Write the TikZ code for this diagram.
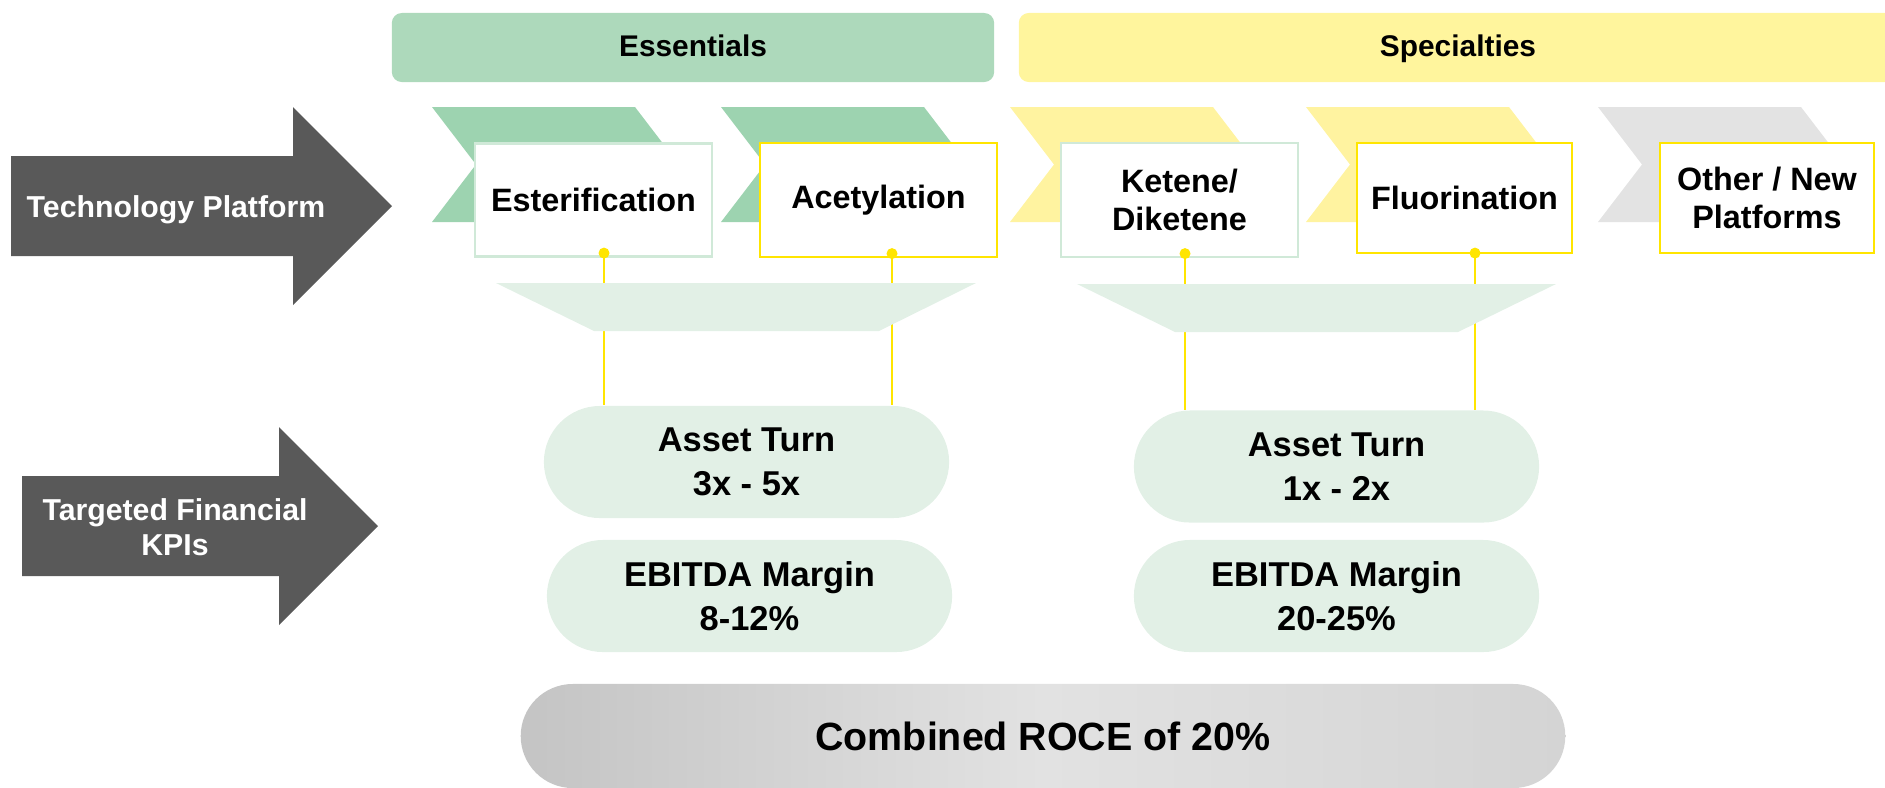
\documentclass[tikz,border=0pt]{standalone}
\usepackage{fontspec}
\setmainfont{Liberation Sans}
\usetikzlibrary{positioning}

\definecolor{essgreen}{HTML}{ADD9BB}
\definecolor{chevgreen}{HTML}{9DD3B0}
\definecolor{specyellow}{HTML}{FFF59D}
\definecolor{chevyellow}{HTML}{FFF3A0}
\definecolor{chevgray}{HTML}{E3E3E3}
\definecolor{arrowgray}{HTML}{595959}
\definecolor{linkyellow}{HTML}{FFE500}
\definecolor{boxgreen}{HTML}{D0E9D8}
\definecolor{kpigreen}{HTML}{E2F0E6}
\definecolor{roceleft}{HTML}{C4C4C4}
\definecolor{rocemid}{HTML}{E2E2E2}
\definecolor{roceright}{HTML}{D4D4D4}

\begin{document}
\begin{tikzpicture}[
    x=0.01cm, y=-0.01cm,
    header/.style={fill=#1, rounded corners=0.1cm, minimum height=0.69cm, inner sep=0pt, text height=0.72em, text depth=0.2em, font=\fontsize{8.5}{10}\selectfont\bfseries},
    platform/.style={draw=#1, line width=0.6pt, fill=white, align=center, inner sep=0pt, font=\fontsize{9.2}{10.6}\selectfont\bfseries},
    kpi/.style={fill=kpigreen, rounded corners=0.56cm, minimum width=4.05cm, minimum height=1.12cm, align=center, inner sep=0pt, font=\fontsize{9.8}{12.4}\selectfont\bfseries},
    arrowtext/.style={text=white, align=center, font=\fontsize{8.6}{10}\selectfont\bfseries},
    link/.style={draw=linkyellow, line width=0.6pt},
    dot/.style={fill=linkyellow}
  ]
  \useasboundingbox (0,0) rectangle (1885,787);

  \node[header=essgreen, minimum width=6.02cm] (essentials) at (693,47.5) {Essentials};
  \node[header=specyellow, minimum width=8.78cm] (specialties) at (1458,47.5) {Specialties};

  \fill[arrowgray] (11,156) -- (293,156) -- (293,107) -- (392,206) -- (293,305) -- (293,256) -- (11,256) -- cycle;
  \fill[arrowgray] (22,476) -- (279,476) -- (279,427) -- (378,526) -- (279,625) -- (279,576) -- (22,576) -- cycle;
  \node[arrowtext] (techlabel) at (176,210) {Technology Platform};
  \node[arrowtext] (kpilabel) at (175,527) {Targeted Financial\\KPIs};

  \foreach \cx/\col in {432/chevgreen, 721/chevgreen, 1010/chevyellow, 1306/chevyellow, 1598/chevgray}
    \fill[\col] (\cx,107) -- ++(203,0) -- ++(44,57.5) -- ++(-44,57.5) -- ++(-203,0) -- ++(44,-57.5) -- cycle;

  \node[platform=boxgreen, minimum width=2.37cm, minimum height=1.13cm] (ester) at (593.5,200) {Esterification};
  \node[platform=linkyellow, minimum width=2.37cm, minimum height=1.14cm] (acet) at (878.5,200) {Acetylation};
  \node[platform=boxgreen, minimum width=2.37cm, minimum height=1.14cm] (ketene) at (1179.5,200) {Ketene/\\Diketene};
  \node[platform=linkyellow, minimum width=2.15cm, minimum height=1.10cm] (fluor) at (1464.5,198) {Fluorination};
  \node[platform=linkyellow, minimum width=2.14cm, minimum height=1.10cm] (other) at (1767,198) {Other / New\\Platforms};

  \node[kpi] (at1) at (746.5,462) {Asset Turn\\3x - 5x};
  \node[kpi] (eb1) at (749.5,596) {EBITDA Margin\\8-12\%};
  \node[kpi] (at2) at (1336.5,466.5) {Asset Turn\\1x - 2x};
  \node[kpi] (eb2) at (1336.5,596) {EBITDA Margin\\20-25\%};

  \coordinate (d1) at ([xshift=0.105cm, yshift=0.045cm]ester.south);
  \coordinate (d2) at ([xshift=0.135cm, yshift=0.045cm]acet.south);
  \coordinate (d3) at ([xshift=0.055cm, yshift=0.045cm]ketene.south);
  \coordinate (d4) at ([xshift=0.105cm, yshift=0.01cm]fluor.south);

  \draw[link] (d1) -- (d1 |- at1.north);
  \draw[link] (d2) -- (d2 |- at1.north);
  \draw[link] (d3) -- (d3 |- at2.north);
  \draw[link] (d4) -- (d4 |- at2.north);

  \fill[kpigreen] (496,283) -- (976,283) -- (879,331) -- (594,331) -- cycle;
  \fill[kpigreen] (1077,284) -- (1556,284) -- (1458,332) -- (1175,332) -- cycle;

  \foreach \d in {d1,d2,d3,d4}
    \fill[dot] (\d) circle (0.055cm);

  \node[rounded corners=0.52cm, minimum width=10.44cm, minimum height=1.04cm, inner sep=0pt,
        left color=roceleft, right color=roceright, middle color=rocemid,
        font=\fontsize{11.2}{13}\selectfont\bfseries] (roce) at (1043,736) {Combined ROCE of 20\%};
\end{tikzpicture}
\end{document}
